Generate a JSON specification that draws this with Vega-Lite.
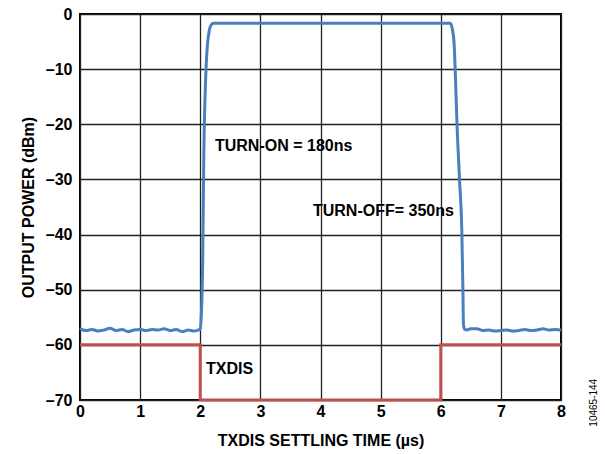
{
  "$schema": "https://vega.github.io/schema/vega-lite/v6.json",
  "autosize": {"type": "none"},
  "padding": {"left": 80, "top": 14, "right": 44, "bottom": 54},
  "width": 481,
  "height": 386,
  "background": "white",
  "config": {
    "font": "Liberation Sans",
    "view": {"stroke": "black", "strokeWidth": 2},
    "axis": {
      "grid": true,
      "gridColor": "#222222",
      "gridWidth": 1.3,
      "gridOpacity": 1,
      "ticks": false,
      "domain": false,
      "labelFlush": false,
      "labelFont": "Liberation Sans",
      "labelFontWeight": "bold",
      "labelFontSize": 16,
      "labelColor": "black",
      "titleFont": "Liberation Sans",
      "titleFontWeight": "bold",
      "titleFontSize": 16,
      "titleColor": "black"
    }
  },
  "layer": [
    {
      "data": {"values": [
        {"t": 0.0, "p": -57.0}, {"t": 0.05, "p": -57.3}, {"t": 0.1, "p": -57.4}, {"t": 0.2, "p": -57.2},
        {"t": 0.3, "p": -57.5}, {"t": 0.4, "p": -57.3}, {"t": 0.5, "p": -57.0}, {"t": 0.6, "p": -57.4},
        {"t": 0.7, "p": -57.2}, {"t": 0.8, "p": -57.6}, {"t": 0.9, "p": -57.3}, {"t": 1.0, "p": -57.2},
        {"t": 1.1, "p": -57.4}, {"t": 1.2, "p": -57.2}, {"t": 1.3, "p": -57.3}, {"t": 1.4, "p": -57.1},
        {"t": 1.5, "p": -57.4}, {"t": 1.6, "p": -57.2}, {"t": 1.7, "p": -57.6}, {"t": 1.8, "p": -57.3},
        {"t": 1.9, "p": -57.5}, {"t": 1.97, "p": -57.3}, {"t": 2.0, "p": -57.2},
        {"t": 2.02, "p": -54}, {"t": 2.04, "p": -45}, {"t": 2.05, "p": -35}, {"t": 2.06, "p": -25},
        {"t": 2.08, "p": -15}, {"t": 2.1, "p": -9}, {"t": 2.12, "p": -5.5}, {"t": 2.15, "p": -3},
        {"t": 2.18, "p": -2.0}, {"t": 2.22, "p": -1.7}, {"t": 4.0, "p": -1.7}, {"t": 6.16, "p": -1.7},
        {"t": 6.19, "p": -2.6}, {"t": 6.22, "p": -5}, {"t": 6.24, "p": -10}, {"t": 6.268, "p": -19.3},
        {"t": 6.311, "p": -29.8}, {"t": 6.351, "p": -39.7}, {"t": 6.368, "p": -49.6}, {"t": 6.378, "p": -56.3},
        {"t": 6.40, "p": -57.2}, {"t": 6.434, "p": -57.3}, {"t": 6.5, "p": -57.1},
        {"t": 6.6, "p": -57.1}, {"t": 6.7, "p": -57.4}, {"t": 6.8, "p": -57.3}, {"t": 6.9, "p": -57.5},
        {"t": 7.0, "p": -57.4}, {"t": 7.1, "p": -57.3}, {"t": 7.2, "p": -57.5}, {"t": 7.3, "p": -57.4},
        {"t": 7.4, "p": -57.2}, {"t": 7.5, "p": -57.4}, {"t": 7.6, "p": -57.3}, {"t": 7.7, "p": -57.1},
        {"t": 7.8, "p": -57.3}, {"t": 7.9, "p": -57.2}, {"t": 8.0, "p": -57.3}
      ]},
      "mark": {"type": "line", "color": "#4a7ebf", "strokeWidth": 3, "interpolate": "monotone"},
      "encoding": {
        "x": {"field": "t", "type": "quantitative",
              "scale": {"domain": [0, 8], "nice": false},
              "axis": {"values": [0,1,2,3,4,5,6,7,8], "format": "d", "labelPadding": 3, "title": "TXDIS SETTLING TIME (µs)", "titlePadding": 13}},
        "y": {"field": "p", "type": "quantitative",
              "scale": {"domain": [-70, 0], "nice": false},
              "axis": {"values": [-70,-60,-50,-40,-30,-20,-10,0], "format": "d", "labelPadding": 8,
                       "labelExpr": "replace(datum.label, /[-\u2212]/, '\u2013')",
                       "title": "OUTPUT POWER (dBm)", "titlePadding": 9}}
      }
    },
    {
      "data": {"values": [
        {"i": 0, "t": 0, "p": -60}, {"i": 1, "t": 2, "p": -60}, {"i": 2, "t": 2, "p": -70},
        {"i": 3, "t": 6, "p": -70}, {"i": 4, "t": 6, "p": -60}, {"i": 5, "t": 8, "p": -60}
      ]},
      "mark": {"type": "line", "color": "#c0504d", "strokeWidth": 3},
      "encoding": {
        "x": {"field": "t", "type": "quantitative"},
        "y": {"field": "p", "type": "quantitative"},
        "order": {"field": "i", "type": "quantitative"}
      }
    },
    {
      "data": {"values": [
        {"t": 2.245, "p": -23.9, "label": "TURN-ON = 180ns"},
        {"t": 3.875, "p": -35.7, "label": "TURN-OFF= 350ns"},
        {"t": 2.096, "p": -64.3, "label": "TXDIS"}
      ]},
      "mark": {"type": "text", "align": "left", "baseline": "middle", "fontSize": 16, "fontWeight": "bold", "font": "Liberation Sans", "color": "black"},
      "encoding": {
        "x": {"field": "t", "type": "quantitative"},
        "y": {"field": "p", "type": "quantitative"},
        "text": {"field": "label"}
      }
    },
    {
      "data": {"values": [{"t": 8.55, "p": -70.5, "label": "10465-144"}]},
      "mark": {"type": "text", "angle": 270, "align": "center", "baseline": "middle", "fontSize": 10, "font": "Liberation Sans", "color": "black"},
      "encoding": {
        "x": {"field": "t", "type": "quantitative"},
        "y": {"field": "p", "type": "quantitative"},
        "text": {"field": "label"}
      }
    }
  ]
}
